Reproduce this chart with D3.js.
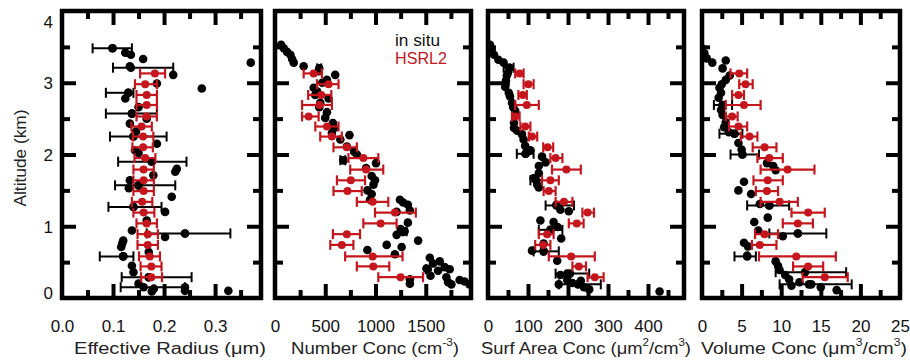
<!DOCTYPE html>
<html>
<head>
<meta charset="utf-8">
<script src="https://cdn.jsdelivr.net/npm/d3@7"></script>
<style>
  body { margin: 0; background: #fff; }
  text { font-family: "Liberation Sans", Arial, Helvetica, sans-serif; }
</style>
</head>
<body>
<svg id="chart" width="910" height="361"></svg>
<script>
// ---- data ----
const altTicks = [0, 1, 2, 3, 4];
const altMinor = [0.5, 1.5, 2.5, 3.5];

// HSRL2 retrieval altitudes (km), shared by the four panels
const hsrlAlt = [3.13, 2.98, 2.83, 2.69, 2.53, 2.39, 2.25, 2.10, 1.95, 1.79,
                 1.64, 1.49, 1.34, 1.19, 1.04, 0.89, 0.74, 0.58, 0.44, 0.29];

// effective radius (um)
const reffTicks = [0.0, 0.1, 0.2, 0.3];
const reffMinor = [0.05, 0.15, 0.25, 0.35];
const reffHsrl   = [0.182, 0.163, 0.166, 0.166, 0.166, 0.156, 0.159, 0.159, 0.163, 0.160,
                    0.160, 0.160, 0.157, 0.160, 0.166, 0.168, 0.168, 0.172, 0.175, 0.175];
const reffHsrlLo = [0.153, 0.143, 0.146, 0.146, 0.146, 0.136, 0.139, 0.138, 0.142, 0.140,
                    0.140, 0.140, 0.137, 0.140, 0.146, 0.148, 0.148, 0.151, 0.154, 0.155];
const reffHsrlHi = [0.202, 0.186, 0.186, 0.186, 0.186, 0.176, 0.179, 0.178, 0.183, 0.180,
                    0.180, 0.180, 0.177, 0.181, 0.186, 0.188, 0.188, 0.192, 0.195, 0.196];
const reffSitu = [[3.48,0.099],[3.42,0.124],[3.39,0.135],[3.33,0.159],[3.28,0.370],[3.23,0.133],
  [3.11,0.218],[2.99,0.186],[2.92,0.274],[2.86,0.130],[2.78,0.124],[2.66,0.150],[2.57,0.137],
  [2.50,0.166],[2.43,0.133],[2.32,0.145],[2.25,0.140],[2.15,0.186],[2.06,0.143],[2.02,0.150],
  [1.90,0.176],[1.80,0.225],[1.76,0.222],[1.71,0.179],[1.64,0.133],[1.57,0.150],[1.53,0.131],
  [1.41,0.215],[1.27,0.140],[1.20,0.202],[1.08,0.166],[0.94,0.137],[0.90,0.241],[0.85,0.202],
  [0.80,0.120],[0.76,0.118],[0.71,0.116],[0.64,0.170],[0.58,0.120],[0.45,0.137],[0.36,0.140],
  [0.29,0.170],[0.20,0.150],[0.15,0.241],[0.10,0.241],[0.13,0.180],[0.09,0.176],[0.10,0.326]];
const reffSituErr = [[3.48,0.099,0.060,0.137],[3.21,0.135,0.100,0.218],[2.86,0.130,0.086,0.140],
  [2.57,0.137,0.086,0.186],[2.25,0.140,0.094,0.205],[1.90,0.176,0.110,0.244],
  [1.57,0.150,0.104,0.222],[1.27,0.140,0.091,0.195],[0.90,0.241,0.166,0.330],
  [0.58,0.120,0.074,0.140],[0.29,0.170,0.117,0.254],[0.15,0.160,0.115,0.241]];

// number concentration (cm-3)
const numTicks = [0, 500, 1000, 1500];
const numMinor = [250, 750, 1250, 1750];
const numHsrl   = [385, 533, 460, 443, 335, 517, 566, 715, 879, 906,
                   754, 721, 972, 1193, 1051, 715, 665, 972, 978, 1249];
const numHsrlLo = [285, 418, 330, 269, 269, 401, 450, 582, 731, 748,
                   616, 582, 814, 995, 879, 576, 550, 698, 814, 1028];
const numHsrlHi = [467, 632, 560, 566, 434, 632, 665, 814, 1028, 1077,
                   896, 863, 1127, 1401, 1210, 846, 780, 1269, 1137, 1473];
const numSitu = [[3.53,61],[3.48,87],[3.43,120],[3.39,153],[3.33,170],[3.28,186],[3.23,285],
  [3.16,434],[3.11,599],[3.04,517],[3.00,470],[2.93,385],[2.88,418],[2.83,400],[2.78,533],
  [2.72,450],[2.66,440],[2.59,517],[2.51,500],[2.44,576],[2.37,590],[2.30,566],[2.27,741],
  [2.21,650],[2.11,715],[2.04,787],[2.00,815],[1.92,680],[1.88,1005],[1.81,906],[1.70,962],
  [1.64,995],[1.58,980],[1.50,920],[1.45,962],[1.37,945],[1.37,1243],[1.33,1275],[1.30,1322],
  [1.22,1342],[1.20,1210],[1.05,1322],[0.96,1250],[0.92,1275],[0.88,1210],[0.80,1424],
  [0.74,1111],[0.71,1260],[0.67,919],[0.61,1193],[0.56,1540],[0.51,1639],[0.48,1573],
  [0.43,1688],[0.41,1507],[0.38,1622],[0.40,1738],[0.31,1547],[0.29,1705],[0.25,1837],
  [0.23,1886],[0.19,1755],[0.19,1935],[0.26,1342],[0.20,1342],[0.22,1722]];
const numSituErr = [[3.20,440,420,460],[1.92,680,650,700],[0.93,1290,1270,1310],[0.40,1520,1500,1540]];

// surface area concentration (um2/cm3)
const saTicks = [0, 100, 200, 300, 400];
const saMinor = [50, 150, 250, 350, 450];
const saHsrl   = [79, 101, 87, 97, 68, 93, 110, 149, 169, 196,
                  156, 152, 190, 249, 222, 148, 138, 208, 227, 267];
const saHsrlLo = [68, 89, 76, 68, 60, 81, 102, 138, 156, 160,
                  135, 139, 169, 236, 202, 127, 118, 152, 211, 249];
const saHsrlHi = [89, 114, 97, 127, 79, 106, 123, 163, 186, 232,
                  177, 169, 211, 265, 239, 164, 156, 267, 245, 289];
const saSitu = [[3.53,5],[3.46,9],[3.39,15],[3.32,26],[3.28,39],[3.21,54],[3.14,50],[3.10,47],
  [3.03,45],[2.98,44],[2.94,43],[2.86,52],[2.81,55],[2.72,60],[2.66,63],[2.61,68],[2.55,68],
  [2.44,65],[2.37,65],[2.33,73],[2.28,85],[2.21,89],[2.12,93],[2.06,106],[2.01,94],[1.97,135],
  [1.89,144],[1.84,127],[1.74,127],[1.67,114],[1.58,123],[1.54,127],[1.30,171],[1.23,181],
  [1.21,202],[1.08,131],[1.06,164],[0.99,174],[0.95,156],[0.83,183],[0.76,139],[0.66,110],
  [0.65,139],[0.52,173],[0.34,198],[0.32,181],[0.25,198],[0.19,177],[0.21,211],[0.24,232],
  [0.12,253],[0.15,240],[0.09,429]];
const saSituErr = [[3.21,54,39,64],[2.01,94,72,114],[1.64,120,106,135],[1.29,171,144,215],
  [0.95,156,127,186],[0.65,139,114,177],[0.34,205,169,253],[0.19,225,177,282]];

// volume concentration (um3/cm3)
const volTicks = [0, 5, 10, 15, 20, 25];
const volMinor = [2.5, 7.5, 12.5, 17.5, 22.5];
const volHsrl   = [4.7, 5.5, 4.6, 5.3, 3.8, 4.6, 6.0, 7.9, 8.5, 10.8,
                   8.3, 8.2, 9.8, 13.4, 12.1, 7.9, 7.3, 11.9, 13.4, 15.5];
const volHsrlLo = [3.6, 4.7, 3.8, 3.0, 3.0, 3.4, 4.9, 6.4, 7.0, 7.4,
                   6.5, 6.8, 7.4, 11.3, 10.2, 6.7, 6.3, 7.2, 11.5, 12.7];
const volHsrlHi = [5.7, 6.4, 5.3, 7.4, 4.5, 5.7, 7.0, 9.4, 10.2, 14.2,
                   10.2, 9.6, 12.1, 15.5, 14.0, 9.6, 9.4, 16.9, 15.3, 18.4];
const volSitu = [[3.48,0.0],[3.41,0.3],[3.34,0.6],[3.28,1.3],[3.31,3.0],[3.20,2.6],[3.10,3.5],
  [3.04,3.0],[2.98,2.5],[2.93,2.2],[2.86,2.4],[2.79,2.1],[2.69,2.6],[2.62,2.4],[2.55,2.6],
  [2.45,3.0],[2.38,2.8],[2.31,3.4],[2.29,4.1],[2.16,4.6],[2.07,5.0],[2.00,5.1],[1.88,8.2],
  [1.78,9.3],[1.84,9.0],[1.62,5.3],[1.50,4.6],[1.45,6.2],[1.31,7.3],[1.29,8.5],[1.12,8.3],
  [1.06,6.6],[0.94,7.1],[0.86,10.2],[0.90,12.1],[0.77,5.3],[0.72,5.8],[0.59,5.7],[0.51,9.3],
  [0.45,9.6],[0.39,9.8],[0.32,10.5],[0.26,11.0],[0.22,12.3],[0.19,13.8],[0.17,11.3],
  [0.15,15.0],[0.11,17.0]];
const volSituErr = [[2.69,2.6,1.5,3.8],[2.29,4.1,2.2,5.1],[2.00,5.1,3.6,7.2],[1.29,8.5,5.7,11.0],
  [0.90,12.1,8.5,15.7],[0.58,5.7,4.1,6.8],[0.36,13.0,9.3,18.2],[0.19,13.5,9.8,18.9]];

// ---- layout ----
const RED = '#c4161c';
const plotTop = 11, plotBottom = 298;
const tickFont = 17, titleFont = 16;

const panels = [
  {x0: 62,  x1: 261, max: 0.39, ticks: reffTicks, minor: reffMinor, fmt: d3.format('.1f'),
   situ: reffSitu, situErr: reffSituErr, hsrl: reffHsrl, lo: reffHsrlLo, hi: reffHsrlHi,
   titleX: 170, titleLen: 192, title: [['Effective Radius (\u03bcm)']]},
  {x0: 275, x1: 471, max: 1950, ticks: numTicks, minor: numMinor, fmt: d3.format('d'),
   situ: numSitu, situErr: numSituErr, hsrl: numHsrl, lo: numHsrlLo, hi: numHsrlHi,
   titleX: 375, titleLen: 168, title: [['Number Conc (cm'], ['-3', 1], [')']]},
  {x0: 488, x1: 684, max: 490, ticks: saTicks, minor: saMinor, fmt: d3.format('d'),
   situ: saSitu, situErr: saSituErr, hsrl: saHsrl, lo: saHsrlLo, hi: saHsrlHi,
   titleX: 586, titleLen: 210, title: [['Surf Area Conc (\u03bcm'], ['2', 1], ['/cm'], ['3', 1], [')']]},
  {x0: 702, x1: 900, max: 25, ticks: volTicks, minor: volMinor, fmt: d3.format('d'),
   situ: volSitu, situErr: volSituErr, hsrl: volHsrl, lo: volHsrlLo, hi: volHsrlHi,
   titleX: 804, titleLen: 206, title: [['Volume Conc (\u03bcm'], ['3', 1], ['/cm'], ['3', 1], [')']]}
];

const svg = d3.select('#chart');
const yScale = d3.scaleLinear().domain([0, 4]).range([plotBottom, plotTop]);

function errorBars(g, rows, x, color, width) {
  const cap = 5;
  const eb = g.append('g').attr('stroke', color).attr('stroke-width', width).attr('fill', 'none');
  rows.forEach(r => {
    const y = yScale(r.alt);
    eb.append('line').attr('x1', x(r.lo)).attr('x2', x(r.hi)).attr('y1', y).attr('y2', y);
    eb.append('line').attr('x1', x(r.lo)).attr('x2', x(r.lo)).attr('y1', y - cap).attr('y2', y + cap);
    eb.append('line').attr('x1', x(r.hi)).attr('x2', x(r.hi)).attr('y1', y - cap).attr('y2', y + cap);
  });
}

function styleAxis(g) {
  g.select('.domain').remove();
  g.selectAll('.tick line').attr('stroke', '#000').attr('stroke-width', 4);
  g.selectAll('.tick text').attr('fill', '#111').attr('font-size', tickFont)
    .attr('font-family', '"Liberation Sans", Arial, sans-serif');
}

panels.forEach((p, i) => {
  const x = d3.scaleLinear().domain([0, p.max]).range([p.x0, p.x1]);
  const g = svg.append('g');

  // clipped plotting area
  const clipId = 'clip' + i;
  svg.append('clipPath').attr('id', clipId).append('rect')
    .attr('x', p.x0).attr('y', plotTop).attr('width', p.x1 - p.x0).attr('height', plotBottom - plotTop);
  const plot = g.append('g').attr('clip-path', `url(#${clipId})`);

  // in situ (black)
  errorBars(plot, p.situErr.map(d => ({alt: d[0], lo: d[2], hi: d[3]})), x, '#000', 2);
  plot.append('g').selectAll('circle').data(p.situ).join('circle')
    .attr('cx', d => x(d[1])).attr('cy', d => yScale(d[0])).attr('r', 4.3).attr('fill', '#000');
  plot.append('g').selectAll('circle').data(p.situErr).join('circle')
    .attr('cx', d => x(d[1])).attr('cy', d => yScale(d[0])).attr('r', 4.3).attr('fill', '#000');

  // HSRL2 (red)
  const rows = hsrlAlt.map((a, k) => ({alt: a, v: p.hsrl[k], lo: p.lo[k], hi: p.hi[k]}));
  errorBars(plot, rows, x, RED, 2.2);
  plot.append('g').selectAll('circle').data(rows).join('circle')
    .attr('cx', d => x(d.v)).attr('cy', d => yScale(d.alt)).attr('r', 4).attr('fill', RED);

  // axes: ticks point inward on all four sides
  const xb = g.append('g').attr('transform', `translate(0,${plotBottom})`)
    .call(d3.axisBottom(x).tickValues(p.ticks).tickFormat(p.fmt).tickSizeInner(-14).tickSizeOuter(0).tickPadding(22));
  styleAxis(xb);
  xb.selectAll('.tick').filter(d => d === 0 || d >= p.max).select('line').remove();
  const xbm = g.append('g').attr('transform', `translate(0,${plotBottom})`)
    .call(d3.axisBottom(x).tickValues(p.minor).tickFormat('').tickSizeInner(-8).tickSizeOuter(0));
  styleAxis(xbm);
  const xt = g.append('g').attr('transform', `translate(0,${plotTop})`)
    .call(d3.axisTop(x).tickValues(p.ticks.filter(t => t > 0 && t < p.max)).tickFormat('').tickSizeInner(-14).tickSizeOuter(0));
  styleAxis(xt);
  const xtm = g.append('g').attr('transform', `translate(0,${plotTop})`)
    .call(d3.axisTop(x).tickValues(p.minor).tickFormat('').tickSizeInner(-8).tickSizeOuter(0));
  styleAxis(xtm);

  const yl = g.append('g').attr('transform', `translate(${p.x0},0)`)
    .call(d3.axisLeft(yScale).tickValues(altTicks.slice(1, -1)).tickFormat('').tickSizeInner(-14).tickSizeOuter(0));
  styleAxis(yl);
  const ylm = g.append('g').attr('transform', `translate(${p.x0},0)`)
    .call(d3.axisLeft(yScale).tickValues(altMinor).tickFormat('').tickSizeInner(-8).tickSizeOuter(0));
  styleAxis(ylm);
  const yr = g.append('g').attr('transform', `translate(${p.x1},0)`)
    .call(d3.axisRight(yScale).tickValues(altTicks.slice(1, -1)).tickFormat('').tickSizeInner(-14).tickSizeOuter(0));
  styleAxis(yr);
  const yrm = g.append('g').attr('transform', `translate(${p.x1},0)`)
    .call(d3.axisRight(yScale).tickValues(altMinor).tickFormat('').tickSizeInner(-8).tickSizeOuter(0));
  styleAxis(yrm);

  // frame
  g.append('rect').attr('x', p.x0).attr('y', plotTop)
    .attr('width', p.x1 - p.x0).attr('height', plotBottom - plotTop)
    .attr('fill', 'none').attr('stroke', '#000').attr('stroke-width', 4.5);

  // x title with superscripts
  const t = g.append('text').attr('x', p.titleX).attr('y', 354)
    .attr('text-anchor', 'middle').attr('font-size', titleFont).attr('fill', '#222')
    .attr('textLength', p.titleLen).attr('lengthAdjust', 'spacingAndGlyphs');
  p.title.forEach((seg, k) => {
    const ts = t.append('tspan').text(seg[0]);
    if (seg[1]) ts.attr('font-size', 10).attr('dy', -8);
    else if (k > 0 && p.title[k - 1][1]) ts.attr('dy', 8);
  });
});

// y axis labels (left panel only)
const yAxis = svg.append('g').attr('transform', `translate(${panels[0].x0},0)`)
  .call(d3.axisLeft(yScale).tickValues(altTicks).tickFormat(d3.format('d')).tickSize(0).tickPadding(9));
styleAxis(yAxis);
yAxis.selectAll('.tick text').attr('dy', d => d === 4 ? '0.95em' : d === 0 ? '0.05em' : '0.35em');

svg.append('text')
  .attr('transform', `translate(26,158) rotate(-90)`)
  .attr('text-anchor', 'middle').attr('font-size', titleFont).attr('fill', '#222')
  .attr('textLength', 97).attr('lengthAdjust', 'spacingAndGlyphs')
  .text('Altitude (km)');

// legend
svg.append('text').attr('x', 395).attr('y', 46).attr('font-size', 16).attr('fill', '#111')
  .attr('textLength', 45).attr('lengthAdjust', 'spacingAndGlyphs').text('in situ');
svg.append('text').attr('x', 395).attr('y', 64).attr('font-size', 16).attr('fill', RED)
  .attr('textLength', 52).attr('lengthAdjust', 'spacingAndGlyphs').text('HSRL2');
</script>
</body>
</html>
